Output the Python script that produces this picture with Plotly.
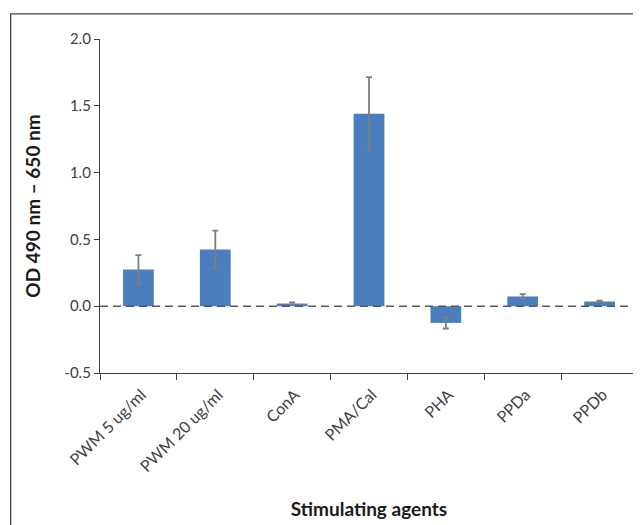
import plotly.graph_objects as go

categories = ["PWM 5 ug/ml", "PWM 20 ug/ml", "ConA", "PMA/Cal", "PHA", "PPDa", "PPDb"]
values = [0.275, 0.425, 0.02, 1.44, -0.125, 0.073, 0.035]
errors = [0.108, 0.14, 0.008, 0.275, 0.042, 0.017, 0.006]
ytick_vals = [-0.5, 0.0, 0.5, 1.0, 1.5, 2.0]
ytick_text = ["-0.5", "0.0", "0.5", "1.0", "1.5", "2.0"]

FONT = "Lato"
fig = go.Figure()
fig.add_trace(go.Bar(
    x=categories, y=values,
    marker=dict(color="#4a7ebf", line=dict(width=0)),
    error_y=dict(type="data", array=errors, visible=True,
                 color="#7f7f7f", thickness=1.8, width=3),
    width=0.40,
))

fig.update_layout(
    width=633, height=517,
    margin=dict(l=92, r=3, t=31, b=152),
    paper_bgcolor="white", plot_bgcolor="white",
    showlegend=False,
    font=dict(family=FONT, size=15, color="#404040"),
    xaxis=dict(
        tickangle=-45, tickson="boundaries", ticks="outside", ticklen=6,
        tickcolor="#404040", showline=True, linecolor="#404040", linewidth=1.3,
        tickfont=dict(family=FONT, size=16, color="#404040"),
        ticklabelstandoff=5, ticklabelshift=3,
        title=dict(text="<b>Stimulating agents</b>", standoff=28,
                   font=dict(family=FONT, size=19, color="#1a1a1a")),
        showgrid=False,
    ),
    yaxis=dict(
        range=[-0.5, 2.0], tickvals=ytick_vals, ticktext=ytick_text,
        ticks="outside", ticklen=5, tickcolor="#404040",
        showline=True, linecolor="#404040", linewidth=1.3,
        showgrid=False, zeroline=False,
        tickfont=dict(family=FONT, size=15, color="#404040"),
        title=dict(text="<b>OD 490 nm – 650 nm</b>", standoff=18,
                   font=dict(family=FONT, size=19, color="#1a1a1a")),
    ),
)

# dashed zero line
fig.add_shape(type="line", xref="paper", yref="y", x0=0, x1=1, y0=0, y1=0,
              line=dict(color="#595959", width=1.5, dash="8px,5px"), layer="above")
# outer frame
fig.add_shape(type="rect", xref="paper", yref="paper",
              x0=-0.166, x1=1.3, y0=-1.0, y1=1.075,
              line=dict(color="#444444", width=1.3))

fig.write_html("out.html")
